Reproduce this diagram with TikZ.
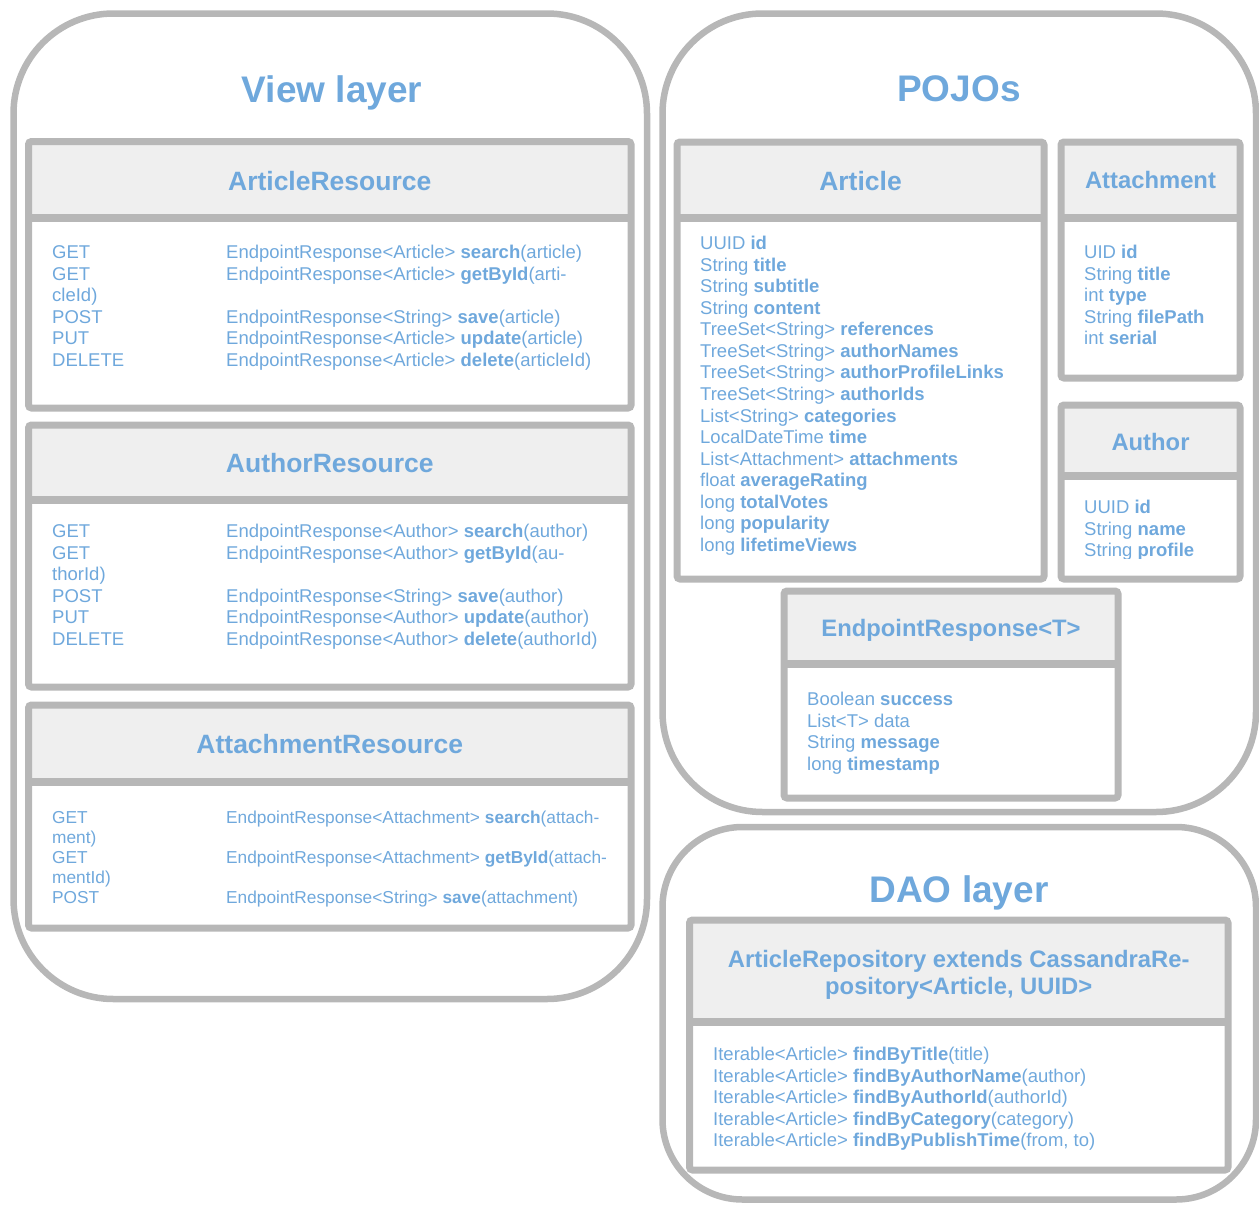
\documentclass[tikz,border=0pt]{standalone}
\usepackage{fontspec}
\setmainfont{Liberation Sans}
\definecolor{txtblue}{HTML}{6FA8DC}
\definecolor{edge}{HTML}{B7B7B7}
\definecolor{hdrfill}{HTML}{EFEFEF}
\newcommand\bodyf{\fontsize{18.5}{21.5}\selectfont}
\newcommand\smallbodyf{\fontsize{17.3}{20}\selectfont}
\newcommand\classbox[5]{%
  \fill[hdrfill] (#1,#2) rectangle (#3,#5);
  \draw[edge, line width=8] (#1,#5) -- (#3,#5);
  \draw[edge, line width=7, rounded corners=3] (#1,#2) rectangle (#3,#4);
}
\newcommand\mth[1]{\makebox[174pt][l]{#1}}
\begin{document}
\begin{tikzpicture}[x=1pt,y=-1pt,
  tx/.style={anchor=base west, inner sep=0, text=txtblue, font=\bodyf},
  stx/.style={anchor=base west, inner sep=0, text=txtblue, font=\smallbodyf},
  hd/.style={anchor=base, inner sep=0, text=txtblue, font=\bfseries\fontsize{26.5}{30}\selectfont},
  shd/.style={anchor=base, inner sep=0, text=txtblue, font=\bfseries\fontsize{23.8}{27}\selectfont},
  ttl/.style={anchor=base, inner sep=0, text=txtblue, font=\bfseries\fontsize{37}{42}\selectfont},
  outer/.style={draw=edge, line width=6.5}]
\useasboundingbox (0,0) rectangle (1259,1205);

% ---------------- View layer ----------------
\draw[outer, rounded corners=100] (13.5,13.5) rectangle (647,999);
\node[ttl] (viewtitle) at (332,102.5) {View layer};

\classbox{28.5}{141.5}{631}{408}{217.5}
\node[hd] (arh) at (329.75,190.5) {ArticleResource};
\node[tx] (ar1) at (52,258.5) {\mth{GET}EndpointResponse<Article> \textbf{search}(article)};
\node[tx] (ar2) at (52,280) {\mth{GET}EndpointResponse<Article> \textbf{getById}(arti-};
\node[tx] (ar3) at (52,301.5) {cleId)};
\node[tx] (ar4) at (52,323) {\mth{POST}EndpointResponse<String> \textbf{save}(article)};
\node[tx] (ar5) at (52,344.5) {\mth{PUT}EndpointResponse<Article> \textbf{update}(article)};
\node[tx] (ar6) at (52,366) {\mth{DELETE}EndpointResponse<Article> \textbf{delete}(articleId)};

\classbox{28.5}{425}{631}{687}{500}
\node[hd] (auh) at (329.75,472.5) {AuthorResource};
\node[tx] (au1) at (52,537.5) {\mth{GET}EndpointResponse<Author> \textbf{search}(author)};
\node[tx] (au2) at (52,559) {\mth{GET}EndpointResponse<Author> \textbf{getById}(au-};
\node[tx] (au3) at (52,580.5) {thorId)};
\node[tx] (au4) at (52,602) {\mth{POST}EndpointResponse<String> \textbf{save}(author)};
\node[tx] (au5) at (52,623.5) {\mth{PUT}EndpointResponse<Author> \textbf{update}(author)};
\node[tx] (au6) at (52,645) {\mth{DELETE}EndpointResponse<Author> \textbf{delete}(authorId)};

\classbox{28.5}{705}{631}{928}{782}
\node[hd] (ath) at (329.75,753.5) {AttachmentResource};
\node[stx] (at1) at (52,823) {\mth{GET}EndpointResponse<Attachment> \textbf{search}(attach-};
\node[stx] (at2) at (52,843) {ment)};
\node[stx] (at3) at (52,863) {\mth{GET}EndpointResponse<Attachment> \textbf{getById}(attach-};
\node[stx] (at4) at (52,883) {mentId)};
\node[stx] (at5) at (52,903) {\mth{POST}EndpointResponse<String> \textbf{save}(attachment)};

% ---------------- POJOs ----------------
\draw[outer, rounded corners=100] (662.5,13.5) rectangle (1256,812);
\node[ttl] (pojotitle) at (959,101) {POJOs};

\classbox{677}{142}{1044}{579}{217.5}
\node[hd] (arth) at (860.5,190.5) {Article};
\node[tx] (p1) at (700,249.5) {UUID \textbf{id}};
\node[tx] (p2) at (700,271.07) {String \textbf{title}};
\node[tx] (p3) at (700,292.64) {String \textbf{subtitle}};
\node[tx] (p4) at (700,314.21) {String \textbf{content}};
\node[tx] (p5) at (700,335.78) {TreeSet<String> \textbf{references}};
\node[tx] (p6) at (700,357.35) {TreeSet<String> \textbf{authorNames}};
\node[tx] (p7) at (700,378.92) {TreeSet<String> \textbf{authorProfileLinks}};
\node[tx] (p8) at (700,400.49) {TreeSet<String> \textbf{authorIds}};
\node[tx] (p9) at (700,422.06) {List<String> \textbf{categories}};
\node[tx] (p10) at (700,443.63) {LocalDateTime \textbf{time}};
\node[tx] (p11) at (700,465.2) {List<Attachment> \textbf{attachments}};
\node[tx] (p12) at (700,486.77) {float \textbf{averageRating}};
\node[tx] (p13) at (700,508.34) {long \textbf{totalVotes}};
\node[tx] (p14) at (700,529.91) {long \textbf{popularity}};
\node[tx] (p15) at (700,551.48) {long \textbf{lifetimeViews}};

\classbox{1061}{142}{1240}{378}{217.5}
\node[shd] (atth) at (1150.5,188.5) {Attachment};
\node[tx] (a1) at (1084,258.5) {UID \textbf{id}};
\node[tx] (a2) at (1084,280.1) {String \textbf{title}};
\node[tx] (a3) at (1084,301.7) {int \textbf{type}};
\node[tx] (a4) at (1084,323.3) {String \textbf{filePath}};
\node[tx] (a5) at (1084,344.9) {int \textbf{serial}};

\classbox{1061}{405}{1240}{579}{476}
\node[shd] (auth) at (1150.5,450.5) {Author};
\begin{scope}
\clip (1061,405) rectangle (1240,558);
\node[tx] (u1) at (1084,513.5) {UUID \textbf{id}};
\node[tx] (u2) at (1084,535) {String \textbf{name}};
\node[tx] (u3) at (1084,556.5) {String \textbf{profile}};
\end{scope}

\classbox{784}{591}{1118}{798}{664}
\node[shd] (erh) at (951,636) {EndpointResponse<T>};
\node[tx] (e1) at (807,705.5) {Boolean \textbf{success}};
\node[tx] (e2) at (807,727.1) {List<T> data};
\node[tx] (e3) at (807,748.7) {String \textbf{message}};
\node[tx] (e4) at (807,770.3) {long \textbf{timestamp}};

% ---------------- DAO layer ----------------
\draw[outer, rounded corners=80] (662.5,827) rectangle (1256,1199.5);
\node[ttl] (daotitle) at (959,902) {DAO layer};

\classbox{689.5}{920}{1228}{1170}{1022}
\node[shd] (dh1) at (958.75,967.5) {ArticleRepository extends CassandraRe-};
\node[shd] (dh2) at (958.75,994.5) {pository<Article, UUID>};
\node[tx] (d1) at (713,1060.5) {Iterable<Article> \textbf{findByTitle}(title)};
\node[tx] (d2) at (713,1082) {Iterable<Article> \textbf{findByAuthorName}(author)};
\node[tx] (d3) at (713,1103.5) {Iterable<Article> \textbf{findByAuthorId}(authorId)};
\node[tx] (d4) at (713,1125) {Iterable<Article> \textbf{findByCategory}(category)};
\node[tx] (d5) at (713,1146.5) {Iterable<Article> \textbf{findByPublishTime}(from, to)};
\end{tikzpicture}
\end{document}
